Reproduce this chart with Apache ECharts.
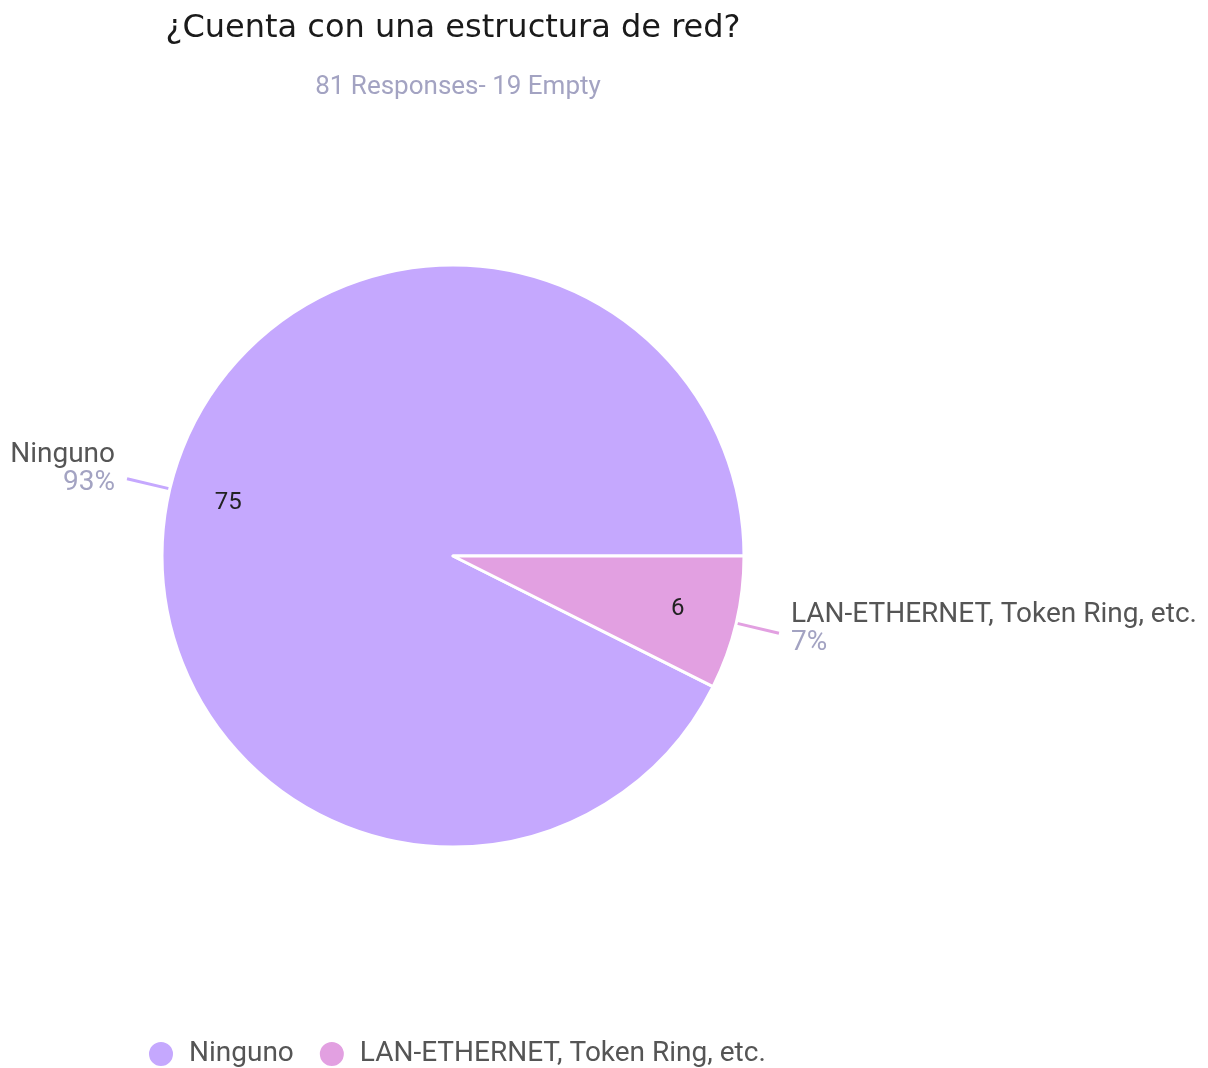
<!DOCTYPE html>
<html>
<head>
<meta charset="utf-8">
<script src="https://cdn.jsdelivr.net/npm/echarts@6/dist/echarts.min.js"></script>
<style>
    html, body { margin: 0; padding: 0; background: #fff; }
    #chart { width: 1208px; height: 1068px; }
</style>
</head>
<body>
<div id="chart"></div>
<script>
    // datos de la encuesta
    const categories = ['Ninguno', 'LAN-ETHERNET, Token Ring, etc.']
    const counts = [75, 6]
    const colors = ['#C5A8FE', '#E2A0E1']
    const titleText = '¿Cuenta con una estructura de red?'
    const subText = '81 Responses- 19 Empty'

    const chart = echarts.init(document.getElementById('chart'))

    const labelShift = [10, 4]
    const pieData = categories.map(function (name, i) {
        return {
            name: name,
            value: counts[i],
            itemStyle: { color: colors[i] },
            label: { padding: [0, 0, labelShift[i] * 2, 0] }
        }
    })

    const option = {
        backgroundColor: '#fff',
        animation: false,
        title: [
            {
                text: titleText,
                left: 448,
                top: 8,
                textAlign: 'center',
                textStyle: { fontFamily: 'DejaVu Sans', fontSize: 32, fontWeight: 'normal', color: '#1a1a1a' }
            },
            {
                text: subText,
                left: 453,
                top: 69,
                textAlign: 'center',
                textStyle: { fontFamily: 'Roboto', fontSize: 26, fontWeight: 'normal', color: '#a3a3c2' }
            }
        ],
        legend: {
            left: 142,
            top: 1035,
            icon: 'circle',
            itemWidth: 26,
            itemHeight: 26,
            itemGap: 24,
            textStyle: { fontFamily: 'Roboto', fontSize: 28, color: '#555', padding: [0, 0, 0, 10] },
            data: categories
        },
        series: [
            {
                type: 'pie',
                center: [453, 556],
                radius: [0, 291],
                startAngle: 0,
                clockwise: false,
                percentPrecision: 0,
                itemStyle: { borderColor: '#fff', borderWidth: 3 },
                label: {
                    show: true,
                    position: 'outside',
                    distanceToLabelLine: 12,
                    formatter: '{n|{b}}\n{p|{d}%}',
                    rich: {
                        n: { fontFamily: 'Roboto', fontSize: 28, color: '#555', lineHeight: 28 },
                        p: { fontFamily: 'Roboto', fontSize: 28, color: '#a3a3c2', lineHeight: 28 }
                    }
                },
                labelLine: { show: true, length: 44, length2: 0, lineStyle: { width: 3 } },
                emphasis: { disabled: true },
                data: pieData
            },
            {
                // etiquetas interiores con el conteo
                type: 'pie',
                center: [453, 556],
                radius: [165, 291],
                startAngle: 0,
                clockwise: false,
                silent: true,
                itemStyle: { color: 'rgba(0,0,0,0)' },
                label: {
                    show: true,
                    position: 'inside',
                    formatter: '{c}',
                    fontFamily: 'Roboto',
                    fontSize: 24,
                    color: '#222',
                    padding: [0, 0, 0, 0]
                },
                labelLine: { show: false },
                emphasis: { disabled: true },
                data: categories.map(function (name, i) {
                    return { name: name, value: counts[i], label: { padding: i === 0 ? [10, 0, 0, 0] : [0, 0, 0, 0] } }
                })
            }
        ]
    }

    option && chart.setOption(option)
</script>
</body>
</html>
